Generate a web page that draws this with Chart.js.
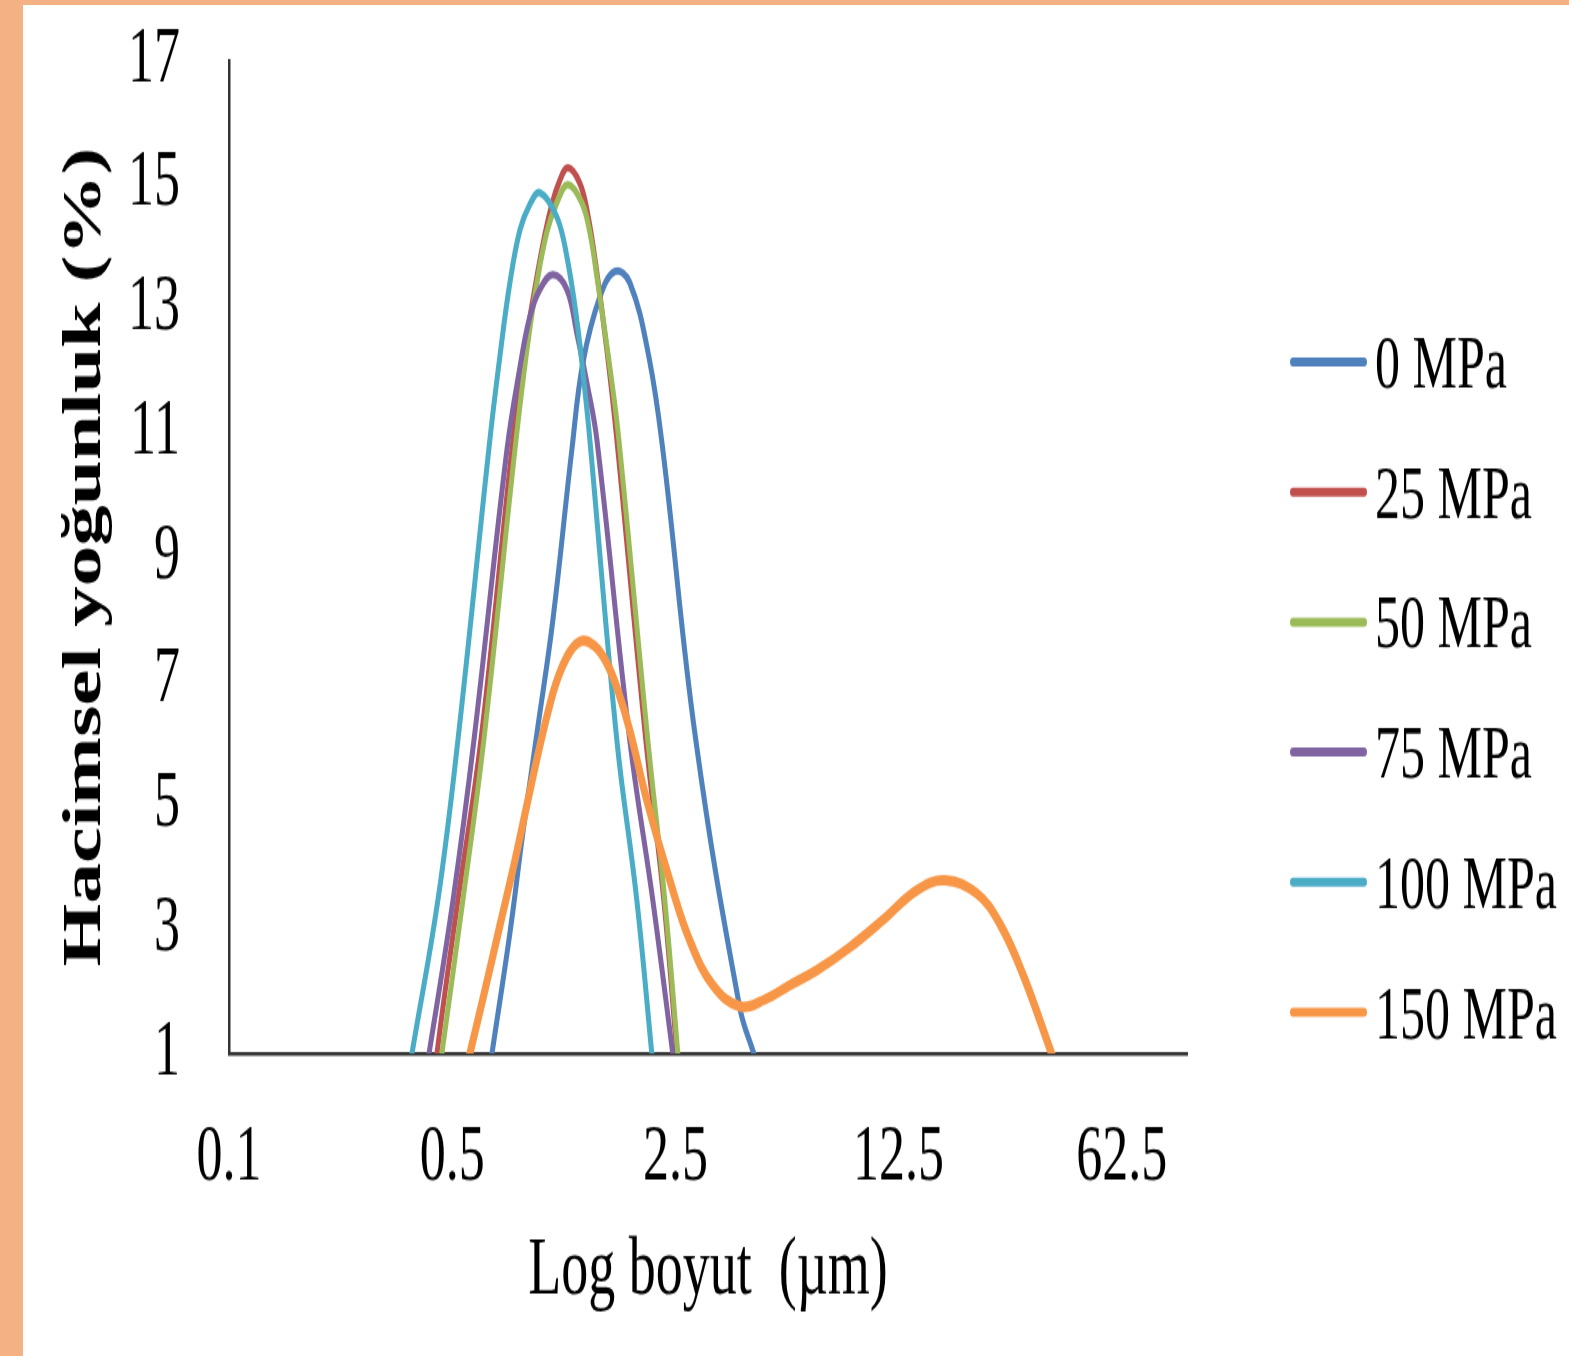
<!DOCTYPE html>
<html lang="tr">
<head>
<meta charset="UTF-8">
<title>Hacimsel yoğunluk</title>
<script src="https://cdn.jsdelivr.net/npm/chart.js"></script>
<style>
  body { margin: 0; background: #fff; width: 1569px; height: 1356px; overflow: hidden; position: relative; }
  #bandLeft { position: absolute; left: 0; top: 0; width: 23px; height: 1356px; background: #f4b183; }
  #bandTop { position: absolute; left: 0; top: 0; width: 1569px; height: 5px; background: #f4b183; }
  #chart { position: absolute; left: 23px; top: 5px; }
</style>
</head>
<body>
<div id="bandLeft"></div>
<div id="bandTop"></div>
<!-- drawn at 900px tall, shown 1.5x taller like the stretched original -->
<canvas id="chart" width="1546" height="900" style="width:1546px;height:1350px"></canvas>

<script>
// data
const seriesLabels = ['0 MPa', '25 MPa', '50 MPa', '75 MPa', '100 MPa', '150 MPa'];
const seriesColors = ['#4f81bd', '#c0504d', '#9bbb59', '#8064a2', '#4bacc6', '#f79646'];
const xTicks = [0.1, 0.5, 2.5, 12.5, 62.5];

const size0 = [0.624, 0.666, 0.758, 0.832, 0.921, 1.033, 1.185, 1.283, 1.450, 1.615, 1.799, 2.064, 2.283, 2.896, 3.976, 4.398, 5.04];
const vol0  = [0, 1.0, 2.94, 4.55, 6.16, 7.98, 10.73, 12.13, 13.19, 13.60, 13.42, 12.23, 10.73, 6.05, 1.74, 1.0, 0];

const size25 = [0.43, 0.448, 0.521, 0.615, 0.769, 0.844, 0.914, 0.975, 1.026, 1.079, 1.151, 1.255, 1.329, 1.408, 1.525, 1.639, 2.020, 2.300, 2.526, 2.62];
const vol25  = [0, 1.0, 3.47, 6.05, 10.73, 12.34, 13.42, 14.19, 14.68, 15.03, 15.27, 15.02, 14.52, 13.71, 12.34, 10.89, 6.05, 3.47, 1.0, 0];

const size50 = [0.437, 0.464, 0.540, 0.628, 0.786, 0.857, 0.921, 0.989, 1.063, 1.151, 1.273, 1.349, 1.419, 1.558, 1.663, 2.049, 2.316, 2.544, 2.637];
const vol50  = [0, 1.0, 3.47, 6.05, 10.73, 12.34, 13.42, 14.23, 14.71, 15.0, 14.71, 14.23, 13.52, 12.06, 10.89, 6.05, 3.47, 1.0, 0];

const size75 = [0.393, 0.423, 0.503, 0.585, 0.742, 0.815, 0.875, 0.941, 1.033, 1.143, 1.228, 1.320, 1.419, 1.799, 2.124, 2.453, 2.599];
const vol75  = [0, 1.0, 3.47, 6.05, 10.73, 12.06, 12.87, 13.31, 13.55, 13.31, 12.61, 11.81, 10.89, 6.05, 3.47, 1.0, 0];

const size100 = [0.347, 0.374, 0.451, 0.521, 0.656, 0.705, 0.758, 0.815, 0.875, 0.941, 1.063, 1.143, 1.228, 1.301, 1.349, 1.639, 1.893, 2.109, 2.202];
const vol100  = [0, 1.0, 3.47, 6.05, 10.89, 12.23, 13.42, 14.27, 14.68, 14.87, 14.48, 13.84, 12.82, 11.69, 10.89, 6.05, 3.47, 1.0, 0];

const size150 = [0.510, 0.568, 0.633, 0.705, 0.786, 0.863, 0.927, 0.997, 1.071, 1.168, 1.273, 1.399, 1.525, 1.651, 1.799, 2.034, 2.401, 2.773, 3.274, 3.976, 4.762, 5.70, 6.929, 8.787, 11.15, 14.24, 17.42, 21.95, 25.88, 30.56, 37.66, 44.2];
const vol150  = [0, 1.0, 2.02, 3.06, 4.11, 5.08, 5.81, 6.50, 7.05, 7.47, 7.65, 7.56, 7.29, 6.85, 6.21, 5.08, 3.79, 2.82, 2.10, 1.76, 1.87, 2.10, 2.34, 2.71, 3.15, 3.63, 3.79, 3.58, 3.10, 2.29, 1.0, 0];

const allSizes = [size0, size25, size50, size75, size100, size150];
const allVols = [vol0, vol25, vol50, vol75, vol100, vol150];

const serif = '"Liberation Serif", "Times New Roman", serif';
Chart.defaults.font.family = serif;
Chart.defaults.color = '#000';

const datasets = seriesLabels.map((label, i) => ({
    label: label,
    data: allSizes[i].map((s, j) => ({ x: s, y: allVols[i][j] })),
    borderColor: seriesColors[i],
    borderWidth: i === 5 ? 7 : 5,
    pointRadius: 0,
    tension: 0.4,
    fill: false,
    clip: 0,
    order: seriesLabels.length - i   // later series on top, like Excel
}));

// legend on the right, one row per series
const sideLegend = {
    id: 'sideLegend',
    afterDraw(chart) {
        const c = chart.ctx;
        c.save();
        chart.data.datasets.forEach((ds, i) => {
            const y = 238 + i * 86.7;
            c.strokeStyle = ds.borderColor;
            c.lineWidth = 6;
            c.lineCap = 'round';
            c.beginPath();
            c.moveTo(1270, y);
            c.lineTo(1341, y);
            c.stroke();
            c.fillStyle = '#000';
            c.font = '50px ' + serif;
            c.textBaseline = 'alphabetic';
            c.fillText(ds.label, 1352, y + 17);
        });
        c.restore();
    }
};

new Chart(document.getElementById('chart').getContext('2d'), {
    type: 'line',
    data: { datasets: datasets },
    plugins: [sideLegend],
    options: {
        responsive: false,
        devicePixelRatio: 1,
        animation: false,
        layout: { padding: { top: 37, right: 382, left: 0, bottom: 0 } },
        plugins: {
            legend: { display: false },
            tooltip: { enabled: false }
        },
        scales: {
            x: {
                type: 'logarithmic',
                min: 0.1,
                max: 100,
                grid: { display: false, drawTicks: false },
                border: { display: true, color: '#333', width: 2.5 },
                afterBuildTicks: (scale) => { scale.ticks = xTicks.map(v => ({ value: v })); },
                afterFit: (scale) => { scale.height = 201; },
                ticks: {
                    font: { size: 52 },
                    padding: 39,
                    maxRotation: 0,
                    autoSkip: false,
                    callback: (v) => String(v)
                },
                title: {
                    display: true,
                    text: 'Log boyut  (µm)',
                    font: { size: 54 },
                    padding: { top: 0, bottom: 23 }
                }
            },
            y: {
                min: 1,
                max: 17,
                grid: { display: false, drawTicks: false },
                border: { display: true, color: '#333', width: 2.5 },
                afterFit: (scale) => {
                    scale.width = 206;
                    scale.paddingTop = 0;
                    scale.paddingBottom = 0;
                },
                ticks: {
                    stepSize: 2,
                    font: { size: 52 },
                    padding: 49
                },
                title: {
                    display: true,
                    text: 'Hacimsel yoğunluk (%)',
                    font: { size: 54, weight: 'bold' },
                    padding: { top: 31, bottom: 0 }
                }
            }
        }
    }
});
</script>
</body>
</html>
